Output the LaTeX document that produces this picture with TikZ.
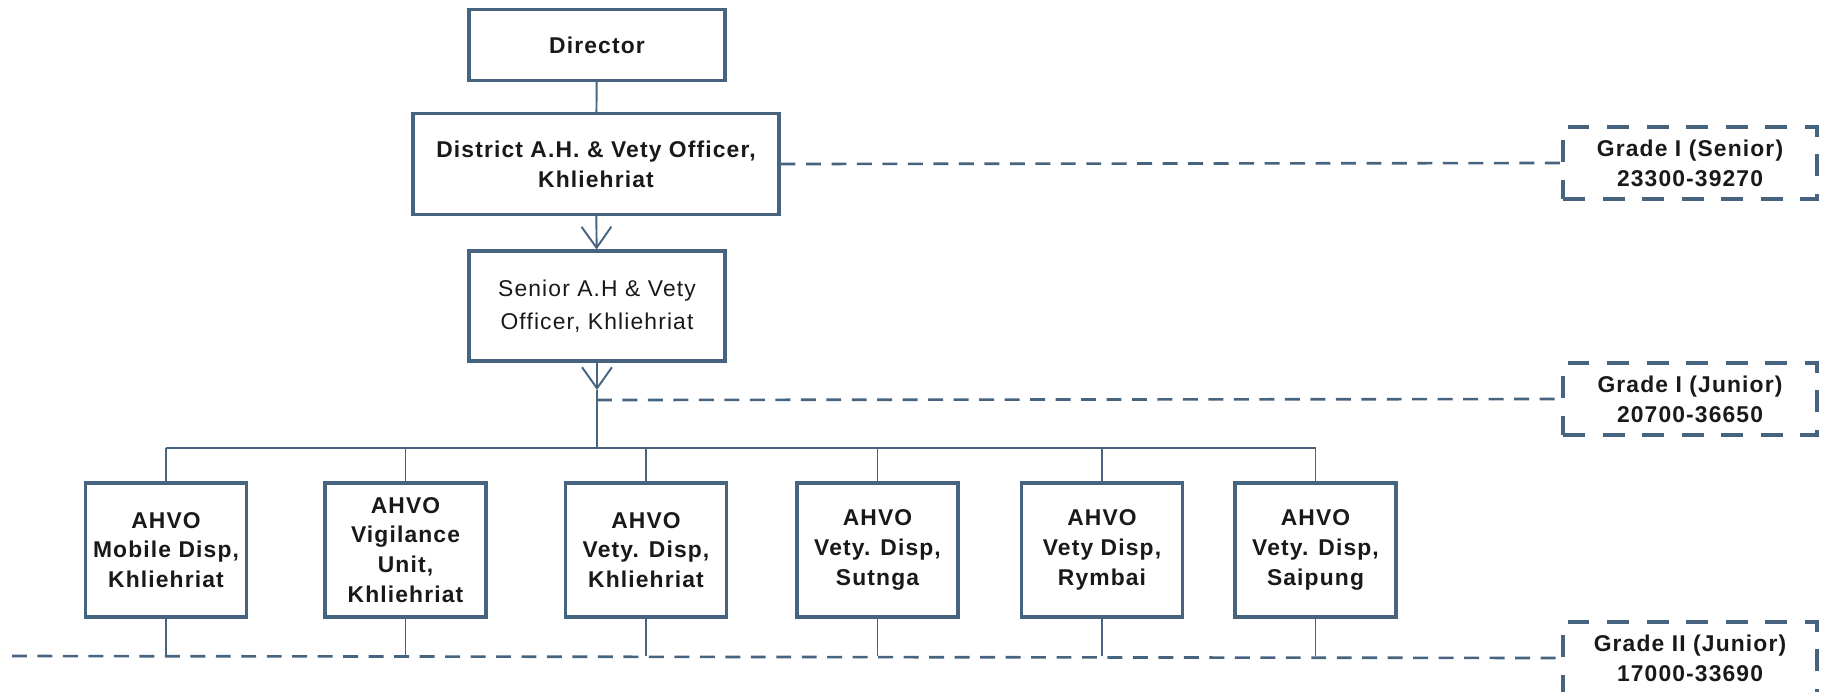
\documentclass[tikz,border=0pt]{standalone}
\usepackage{fontspec}
\setmainfont{Liberation Sans}
\newfontfamily\spacedfont[LetterSpace=5]{Liberation Sans}
\usetikzlibrary{arrows.meta}
\definecolor{chartline}{HTML}{46647F}

\begin{document}
\begin{tikzpicture}[x=0.02cm, y=-0.02cm,
  post/.style={draw=chartline, line width=1.8pt, fill=white, align=center,
    inner sep=0pt, text=black!90, font=\spacedfont\bfseries\fontsize{13}{17}\selectfont},
  grade/.style={post, dash pattern=on 12.5pt off 10pt, fill=none,
    minimum width=5.08cm, minimum height=1.44cm},
  unit/.style={post, minimum width=3.22cm, minimum height=2.68cm},
  link/.style={draw=chartline, line width=1.1pt},
  band/.style={draw=chartline, line width=1.5pt, dash pattern=on 8.5pt off 6pt},
  barb/.style={-{Straight Barb[length=12pt, width=17pt, line width=1.1pt]}}]
  \useasboundingbox (0,0) rectangle (1824,691);

  % Top of the chart
  \node[post, minimum width=5.12cm, minimum height=1.42cm] (director) at (597, 45) {Director};
  \node[post, minimum width=7.32cm, minimum height=2.02cm] (district) at (596, 164)
    {District A.H. \& Vety Officer,\\Khliehriat};
  \node[post, minimum width=5.12cm, minimum height=2.2cm,
        font=\spacedfont\fontsize{13}{19}\selectfont] (senior) at (597, 306)
    {Senior A.H \& Vety\\Officer, Khliehriat};

  % Pay grades
  \node[grade] (gradeIS) at (1690, 163) {Grade I (Senior)\\23300-39270};
  \node[grade] (gradeIJ) at (1690, 399) {Grade I (Junior)\\20700-36650};
  \node[grade] (gradeIIJ) at (1690, 658) {Grade II (Junior)\\17000-33690};

  % Dispensaries
  \node[unit] (mobile)    at (166, 550)    {AHVO\\Mobile Disp,\\Khliehriat};
  \node[unit] (vigilance) at (405.5, 550)  {AHVO\\Vigilance\\Unit,\\Khliehriat};
  \node[unit] (khliehriat) at (646, 550)   {AHVO\\Vety. Disp,\\Khliehriat};
  \node[unit] (sutnga)    at (877.5, 550)  {AHVO\\Vety. Disp,\\Sutnga};
  \node[unit] (rymbai)    at (1102, 550)   {AHVO\\Vety Disp,\\Rymbai};
  \node[unit] (saipung)   at (1315.5, 550) {AHVO\\Vety. Disp,\\Saipung};

  % Chain of command
  \coordinate (tip) at (597, 390);
  \coordinate (bus) at (597, 448);
  \coordinate (juniorline) at (597, 400);
  \coordinate (gradeline) at (12, 656);
  \draw[link] (director) -- (district);
  \draw[link, barb] (district) -- (senior);
  \draw[link, barb] (senior) -- (tip);
  \draw[link] (tip) -- (bus);
  \draw[link] (mobile.north |- bus) -- (saipung.north |- bus);
  \foreach \u in {mobile, vigilance, khliehriat, sutnga, rymbai, saipung} {
    \draw[link] (\u.north |- bus) -- (\u.north);
    \draw[link] (\u.south) -- (\u.south |- gradeline);
  }

  % Grade guide lines
  \draw[band] (district.east) -- (gradeIS.west);
  \draw[band] (juniorline) -- (gradeIJ.west);
  \draw[band] (gradeline) -- (gradeIIJ.west);
\end{tikzpicture}
\end{document}
